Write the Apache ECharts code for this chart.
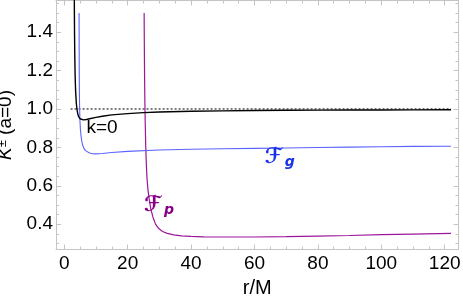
<!DOCTYPE html>
<html><head><meta charset="utf-8">
<script src="https://cdn.jsdelivr.net/npm/echarts@6/dist/echarts.min.js"></script>
<style>html,body{margin:0;padding:0;background:#fff}#c{width:463px;height:302px}</style>
</head><body><div id="c"></div>
<script>
// ---- data ----
var blackR = [3.15,3.2,3.25,3.3,3.4,3.5,3.6,3.8,4.0,4.25,4.5,5,5.5,6,7,8,10,12,15,20,25,30,40,50,60,70,80,90,100,110,122];
var blackK = [1.673,1.5,1.387,1.306,1.2,1.134,1.089,1.032,1.0,0.976,0.962,0.949,0.944,0.943,0.945,0.949,0.956,0.962,0.969,0.976,0.981,0.984,0.988,0.990,0.992,0.993,0.994,0.9945,0.995,0.9955,0.996];
var blueR = [4.68,4.7,4.73,4.78,4.85,4.95,5.1,5.3,5.5,5.8,6.2,6.7,7.3,8,9,10,12,15,20,30,40,50,60,70,80,90,100,110,122];
var blueK = [1.5,1.35,1.2,1.08,1.0,0.94,0.895,0.86,0.835,0.812,0.795,0.783,0.776,0.771,0.767,0.766,0.768,0.773,0.779,0.786,0.790,0.793,0.795,0.797,0.799,0.801,0.803,0.805,0.806];
var purpleR = [25.2,25.25,25.32,25.42,25.55,25.7,25.9,26.1,26.4,26.8,27.3,28,28.8,29.8,31,32.5,34.5,37,40,44,50,60,70,80,90,100,110,122];
var purpleK = [1.5,1.35,1.2,1.05,0.92,0.81,0.71,0.64,0.58,0.53,0.48,0.435,0.4,0.377,0.362,0.352,0.344,0.339,0.336,0.334,0.333,0.333,0.335,0.338,0.341,0.345,0.348,0.352];
var refR = [2, 122];
var refK = [1.0, 1.0];
var xTicks = [0,20,40,60,80,100,120];
var xMinor = [5,10,15,25,30,35,45,50,55,65,70,75,85,90,95,105,110,115];
var yTicks = [0.4,0.6,0.8,1.0,1.2,1.4];
var yMinor = [0.3,0.35,0.45,0.5,0.55,0.65,0.7,0.75,0.85,0.9,0.95,1.05,1.1,1.15,1.25,1.3,1.35,1.45,1.5,1.55];
var xName = 'r/M';
var labelK0 = 'k=0';

function zip(a,b){return a.map(function(v,i){return [v,b[i]];});}

var XMIN=-2.6, XMAX=124.35, YMIN=0.268, YMAX=1.565;
var frameColor='#c4c4c4';
var font='Liberation Sans, Arial, sans-serif';

function xAx(pos, major, labels){
  return {type:'value', position:pos, min:XMIN, max:XMAX, gridIndex:0,
    splitLine:{show:false},
    axisLine:{show:major, onZero:false, lineStyle:{color:frameColor,width:1}},
    axisTick:{show:true, inside:true, length: major?5:3, customValues: major?xTicks:xMinor, lineStyle:{color:frameColor}},
    axisLabel:{show:labels, customValues:xTicks, color:'#000', fontSize:19, fontFamily:font, margin:5},
    name: labels?xName:'', nameLocation:'middle', nameGap:26,
    nameTextStyle:{color:'#000', fontSize:20, fontFamily:font}
  };
}
function yAx(pos, major, labels){
  return {type:'value', position:pos, min:YMIN, max:YMAX, gridIndex:0,
    splitLine:{show:false},
    axisLine:{show:major, onZero:false, lineStyle:{color:frameColor,width:1}},
    axisTick:{show:true, inside:true, length: major?5:3, customValues: major?yTicks:yMinor, lineStyle:{color:frameColor}},
    axisLabel:{show:labels, customValues:yTicks, color:'#000', fontSize:19, fontFamily:font, margin:3,
      formatter:function(v){return v.toFixed(1);}},
    name: labels?'{k|K}{s|±} (a=0)':'', nameLocation:'middle', nameGap:30, nameRotate:90,
    nameTextStyle:{color:'#000', fontSize:19, fontFamily:font,
      rich:{k:{fontStyle:'italic', fontSize:19, fontFamily:font}, s:{fontSize:13, fontFamily:font, padding:[0,0,8,0]}}}
  };
}

var chart = echarts.init(document.getElementById('c'), null, {renderer:'canvas'});
chart.setOption({
  animation:false,
  backgroundColor:'#fff',
  grid:{left:56, right:4.5, top:0.5, bottom:52.5, containLabel:false, outerBoundsMode:'none'},
  xAxis:[xAx('bottom',true,true), xAx('bottom',false,false), xAx('top',true,false), xAx('top',false,false)],
  yAxis:[yAx('left',true,true), yAx('left',false,false), yAx('right',true,false), yAx('right',false,false)],
  series:[
    {type:'line', data:zip(refR,refK), symbol:'none', lineStyle:{color:'#000', width:1, type:[2,2]}, silent:true},
    {type:'line', data:zip(purpleR,purpleK), symbol:'none', lineStyle:{color:'#9b169b', width:1.2},
      markPoint:{symbol:'circle', symbolSize:0, silent:true, data:[{coord:[29.9,0.495], label:{show:true, position:'inside',
        formatter:'{a|ℱ}{b|p}', rich:{a:{fontSize:21, fontWeight:'bold', fontStyle:'italic', color:'#880088', fontFamily:'DejaVu Sans'},
          b:{fontSize:14, fontWeight:'bold', fontStyle:'italic', color:'#880088', fontFamily:'DejaVu Sans', padding:[8,0,0,3]}}}}]}},
    {type:'line', data:zip(blueR,blueK), symbol:'none', lineStyle:{color:'#5a64ff', width:1.1},
      markPoint:{symbol:'circle', symbolSize:0, silent:true, data:[{coord:[68,0.745], label:{show:true, position:'inside',
        formatter:'{a|ℱ}{b|g}', rich:{a:{fontSize:21, fontWeight:'bold', fontStyle:'italic', color:'#1a33e6', fontFamily:'DejaVu Sans'},
          b:{fontSize:14, fontWeight:'bold', fontStyle:'italic', color:'#1a33e6', fontFamily:'DejaVu Sans', padding:[8,0,0,3]}}}}]}},
    {type:'line', data:zip(blackR,blackK), symbol:'none', lineStyle:{color:'#000', width:1.4},
      markPoint:{symbol:'circle', symbolSize:0, silent:true, data:[{coord:[11.9,0.90], label:{show:true, position:'inside',
        formatter:labelK0, color:'#000', fontSize:19, fontFamily:font}}]}}
  ]
});
</script></body></html>
